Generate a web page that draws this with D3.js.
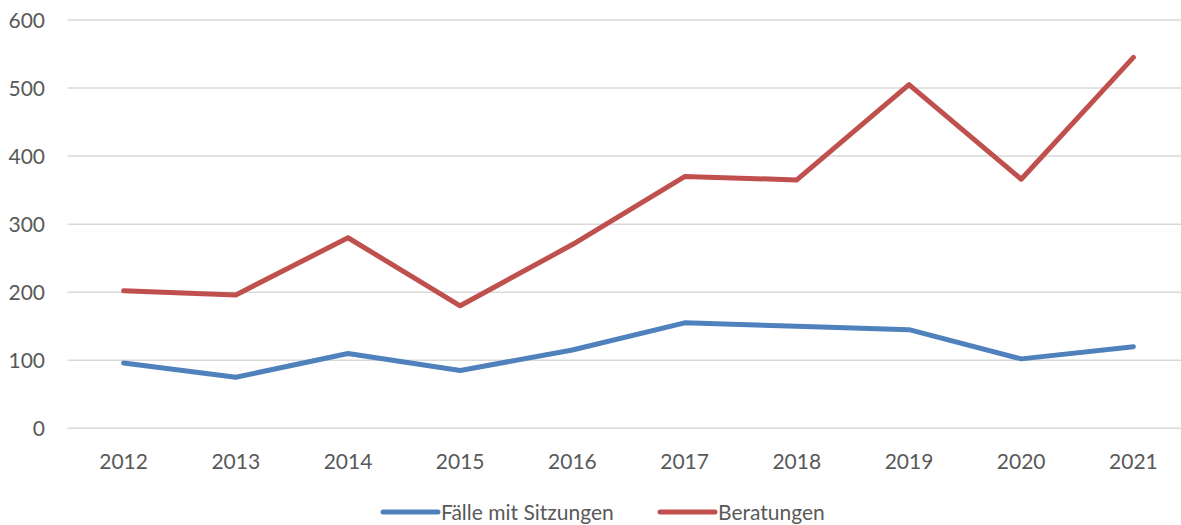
<!DOCTYPE html>
<html>
<head>
<meta charset="utf-8">
<script src="https://cdn.jsdelivr.net/npm/d3@7"></script>
<style>
  body { margin: 0; background: #fff; }
  svg text { font-family: Lato, "Open Sans", sans-serif; fill: #595959; }
</style>
</head>
<body>
<svg id="chart"></svg>
<script>
// Data.
const years = ["2012", "2013", "2014", "2015", "2016", "2017", "2018", "2019", "2020", "2021"];
const faelle = [96, 75, 110, 85, 115, 155, 150, 145, 102, 120];
const beratungen = [202, 196, 280, 180, 270, 370, 365, 505, 366, 545];
const yTicks = [0, 100, 200, 300, 400, 500, 600];
const seriesNames = ["Fälle mit Sitzungen", "Beratungen"];
const seriesColors = ["#4f81bd", "#c0504d"];

const width = 1181, height = 525;
const svg = d3.select("#chart").attr("width", width).attr("height", height);

// Scales.
const x = d3.scaleBand().domain(years).range([67.5, 1189.5]);
const y = d3.scaleLinear().domain([0, 600]).range([428.3, 20]);

// Gridlines.
svg.append("g")
  .selectAll("line")
  .data(yTicks)
  .join("line")
  .attr("x1", 67.5)
  .attr("x2", 1189.5)
  .attr("y1", d => y(d))
  .attr("y2", d => y(d))
  .attr("stroke", "#d9d9d9")
  .attr("stroke-width", 1.5);

// Y tick labels.
svg.append("g")
  .selectAll("text")
  .data(yTicks)
  .join("text")
  .attr("x", 45)
  .attr("y", d => y(d))
  .attr("dy", "0.36em")
  .attr("text-anchor", "end")
  .attr("font-size", "21px")
  .text(d => d);

// X tick labels.
svg.append("g")
  .selectAll("text")
  .data(years)
  .join("text")
  .attr("x", d => x(d) + x.bandwidth() / 2)
  .attr("y", 461)
  .attr("dy", "0.36em")
  .attr("text-anchor", "middle")
  .attr("font-size", "21px")
  .text(d => d);

// Lines.
const line = d3.line()
  .x((d, i) => x(years[i]) + x.bandwidth() / 2)
  .y(d => y(d));

[faelle, beratungen].forEach((values, s) => {
  svg.append("path")
    .datum(values)
    .attr("d", line)
    .attr("fill", "none")
    .attr("stroke", seriesColors[s])
    .attr("stroke-width", 5)
    .attr("stroke-linejoin", "round")
    .attr("stroke-linecap", "round");
});

// Legend.
const legendX = [383, 660];
seriesNames.forEach((name, s) => {
  svg.append("line")
    .attr("x1", legendX[s])
    .attr("x2", legendX[s] + 55)
    .attr("y1", 512)
    .attr("y2", 512)
    .attr("stroke", seriesColors[s])
    .attr("stroke-width", 5)
    .attr("stroke-linecap", "round");
  svg.append("text")
    .attr("x", legendX[s] + 58)
    .attr("y", 512)
    .attr("dy", "0.36em")
    .attr("font-size", "21px")
    .text(name);
});
</script>
</body>
</html>
